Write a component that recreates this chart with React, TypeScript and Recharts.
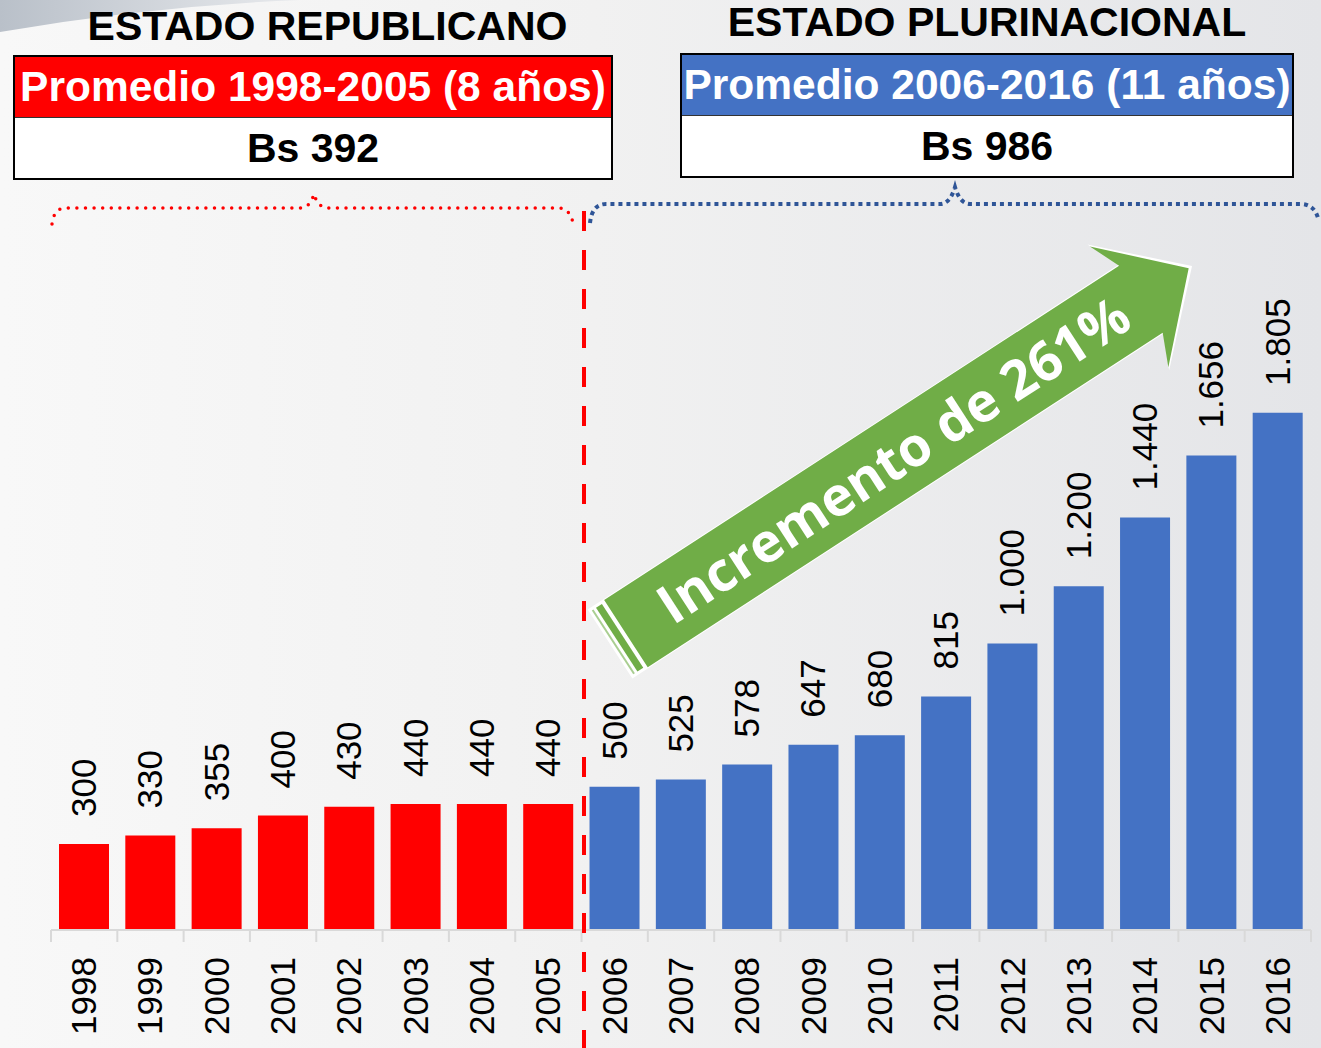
import { BarChart, Bar, XAxis, YAxis, Cell, LabelList } from "recharts";

const years = ["1998", "1999", "2000", "2001", "2002", "2003", "2004", "2005", "2006", "2007", "2008", "2009", "2010", "2011", "2012", "2013", "2014", "2015", "2016"];
const values = [300, 330, 355, 400, 430, 440, 440, 440, 500, 525, 578, 647, 680, 815, 1000, 1200, 1440, 1656, 1805];
const valueLabels = ["300", "330", "355", "400", "430", "440", "440", "440", "500", "525", "578", "647", "680", "815", "1.000", "1.200", "1.440", "1.656", "1.805"];
const lastRepublicanYear = "2005";

const RED = "#FF0000";
const BLUE = "#4472C4";
const GREEN = "#70AD47";
const FONT = '"Liberation Sans", Arial, sans-serif';

const W = 1321;
const H = 1048;
const M = { top: 357, right: 10, left: 51, bottom: 0 };
const BAND = (W - M.left - M.right) / years.length;

const data = years.map((y, i) => ({ year: y, value: values[i], label: valueLabels[i] }));

function YearTick(props: any) {
  const { x, y, payload, index } = props;
  const axisY = y - 8;
  return (
    <g>
      <line x1={x - BAND / 2} x2={x - BAND / 2} y1={axisY} y2={axisY + 12} stroke="#D9D9D9" strokeWidth={2} />
      {index === years.length - 1 && (
        <line x1={x + BAND / 2} x2={x + BAND / 2} y1={axisY} y2={axisY + 12} stroke="#D9D9D9" strokeWidth={2} />
      )}
      <text
        x={x + 12}
        y={axisY + 27}
        transform={`rotate(-90, ${x + 12}, ${axisY + 27})`}
        textAnchor="end"
        fontFamily={FONT}
        fontSize={35}
        fill="#000"
      >
        {payload.value}
      </text>
    </g>
  );
}

function ValueLabel(props: any) {
  const { x, y, width, index } = props;
  const cx = x + width / 2 + 12;
  const ty = y - 27;
  return (
    <text x={cx} y={ty} transform={`rotate(-90, ${cx}, ${ty})`} textAnchor="start" fontFamily={FONT} fontSize={35} fill="#000">
      {valueLabels[index]}
    </text>
  );
}

function Arrow() {
  // tail centre and direction of the big arrow
  const tx = 610, ty = 644, ang = -33;
  const L = 690;
  const hb = 633;
  const sw = 40;
  const hw = 72;
  const body = `M19,${-sw} L${hb},${-sw} L${hb - 14},${-hw} L${L},0 L${hb - 14},${hw} L${hb},${sw} L19,${sw} Z`;
  return (
    <g transform={`translate(${tx},${ty}) rotate(${ang})`}>
      <path d={`M0,${-sw - 1} L${hb},${-sw - 1} L${hb - 15},${-hw - 3} L${L + 4},0 L${hb - 15},${hw + 3} L${hb},${sw + 1} L0,${sw + 1} Z`} fill="#fff" />
      <path d={body} fill={GREEN} />
      <rect x={3} y={-sw + 2} width={2} height={sw * 2 - 4} fill={GREEN} opacity={0.6} />
      <rect x={8} y={-sw + 2} width={7} height={sw * 2 - 4} fill={GREEN} />
      <text
        x={338}
        y={19}
        textAnchor="middle"
        fontFamily='"Open Sans", "Noto Sans", sans-serif'
        fontWeight={700}
        fontSize={54}
        fill="#fff"
      >
        Incremento de 261%
      </text>
    </g>
  );
}

function Overlay() {
  return (
    <svg width={W} height={H} style={{ position: "absolute", left: 0, top: 0, pointerEvents: "none" }}>
      <path
        d="M52,224 Q54,208 66,208 L300,208 Q310,208 314,194 Q318,208 328,208 L558,208 Q570,208 573,223"
        fill="none"
        stroke={RED}
        strokeWidth={3.5}
        strokeLinecap="round"
        strokeDasharray="0 8.6"
      />
      <path
        d="M590,223 Q592,204 606,204 L940,204 Q950,204 955,187 Q960,204 970,204 L1300,204 Q1314,204 1318,218"
        fill="none"
        stroke="#2F5597"
        strokeWidth={4}
        strokeDasharray="4 4"
      />
      <line x1={584} x2={584} y1={211} y2={H} stroke={RED} strokeWidth={4} strokeDasharray="20 19" />
      <Arrow />
    </svg>
  );
}

function HeaderBox(props: { left: number; top: number; width: number; color: string; title: string; value: string }) {
  const { left, top, width, color, title, value } = props;
  return (
    <div
      style={{
        position: "absolute",
        left,
        top,
        width,
        height: 125,
        boxSizing: "border-box",
        border: "2.5px solid #000",
        background: "#fff",
        fontFamily: FONT,
        fontWeight: 700,
      }}
    >
      <div
        style={{
          height: 60,
          background: color,
          color: "#fff",
          fontSize: 42.5,
          lineHeight: "60px",
          textAlign: "center",
          whiteSpace: "nowrap",
          borderBottom: "1px solid #333",
        }}
      >
        {title}
      </div>
      <div style={{ fontSize: 41, lineHeight: "60px", textAlign: "center", color: "#000" }}>{value}</div>
    </div>
  );
}

const titleStyle = {
  position: "absolute" as const,
  textAlign: "center" as const,
  fontFamily: FONT,
  fontWeight: 700,
  fontSize: 41,
  lineHeight: "42px",
  color: "#000",
  whiteSpace: "nowrap" as const,
};

export default function App() {
  return (
    <div
      style={{
        position: "absolute",
        left: 0,
        top: 0,
        width: W,
        height: H,
        overflow: "hidden",
        background: "linear-gradient(to right, #f8f8f8 0%, #f1f1f1 45%, #e4e5e8 100%)",
      }}
    >
      <svg width={W} height={60} style={{ position: "absolute", left: 0, top: 0 }}>
        <defs>
          <linearGradient id="sw" x1="0" x2="1" y1="0" y2="0">
            <stop offset="0" stopColor="#b9c0c9" />
            <stop offset="1" stopColor="#e8eaed" />
          </linearGradient>
        </defs>
        <path d="M0,0 L300,0 Q150,6 0,32 Z" fill="url(#sw)" />
      </svg>

      <div style={{ ...titleStyle, left: 0, width: 655, top: 5 }}>ESTADO REPUBLICANO</div>
      <div style={{ ...titleStyle, left: 660, width: 654, top: 1 }}>ESTADO PLURINACIONAL</div>

      <HeaderBox left={13} top={55} width={600} color={RED} title="Promedio 1998-2005 (8 años)" value="Bs 392" />
      <HeaderBox left={680} top={53} width={614} color={BLUE} title="Promedio 2006-2016 (11 años)" value="Bs 986" />

      <div style={{ position: "absolute", left: 0, top: 0 }}>
        <BarChart width={W} height={H} data={data} margin={M} barSize={50}>
          <XAxis
            dataKey="year"
            height={118}
            interval={0}
            tickLine={false}
            axisLine={{ stroke: "#D9D9D9", strokeWidth: 2 }}
            tick={<YearTick />}
          />
          <YAxis hide domain={[0, 2000]} />
          <Bar dataKey="value" isAnimationActive={false}>
            {data.map((d) => (
              <Cell key={d.year} fill={Number(d.year) <= Number(lastRepublicanYear) ? RED : BLUE} />
            ))}
            <LabelList dataKey="label" content={<ValueLabel />} />
          </Bar>
        </BarChart>
      </div>

      <Overlay />
    </div>
  );
}
